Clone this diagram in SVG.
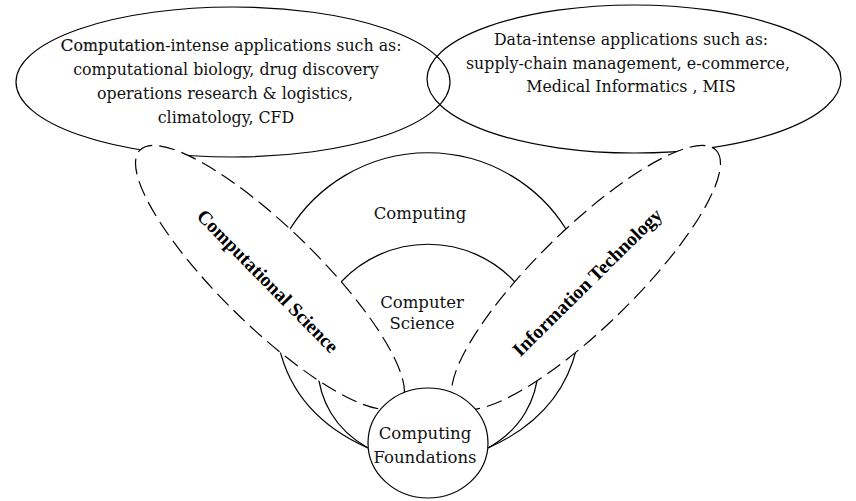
<svg xmlns="http://www.w3.org/2000/svg" width="856" height="501" viewBox="0 0 856 501">
  <style>
    .line { fill: none; stroke: #000; stroke-width: 1.2; }
    .band { fill: #fff; stroke: #000; stroke-width: 1.2; stroke-dasharray: 16 7; }
    .disc { fill: #fff; stroke: #000; stroke-width: 1.2; }
    .txt { font-family: "DejaVu Serif", "Liberation Serif", serif; font-size: 16.5px; fill: #111; text-anchor: middle; }
    .apps { font-size: 15.8px; }
    .bold { font-family: "Liberation Serif", "Times New Roman", serif; font-size: 19.5px; font-weight: bold; fill: #000; text-anchor: middle; }
  </style>
  <rect width="856" height="501" fill="#fff"/>

  <!-- nested fans growing out of the foundations disc -->
  <g id="computing">
    <path class="line" d="M368 448 C260 400 265 300 290 229 A163 163 0 0 1 566 229 C591 300 596 400 488 448"/>
    <text class="txt" x="420" y="219">Computing</text>
  </g>
  <g id="computer-science">
    <path class="line" d="M368 448 C300 410 310 330 342 281 A119 119 0 0 1 514 281 C546 330 556 410 488 448"/>
    <text class="txt" x="422" y="308">Computer</text>
    <text class="txt" x="422" y="329">Science</text>
  </g>

  <!-- application areas -->
  <g id="computation-apps">
    <ellipse class="line" cx="233" cy="82" rx="217" ry="75"/>
    <text class="txt apps" x="231" y="51"><tspan stroke="#000" stroke-width="0.15"><tspan font-size="17">C</tspan>omputation</tspan>-intense applications such as:</text>
    <text class="txt apps" x="226" y="75">computational biology, drug discovery</text>
    <text class="txt apps" x="225" y="99">operations research &amp; logistics,</text>
    <text class="txt apps" x="226" y="123">climatology, CFD</text>
  </g>
  <g id="data-apps">
    <ellipse class="line" cx="634" cy="79" rx="207" ry="74"/>
    <text class="txt apps" x="631" y="45">Data-intense applications such as:</text>
    <text class="txt apps" x="628" y="69">supply-chain management, e-commerce,</text>
    <text class="txt apps" x="631" y="92">Medical  Informatics , MIS</text>
  </g>

  <!-- tilted bands -->
  <g id="computational-science">
    <ellipse class="band" cx="270" cy="277.5" rx="182" ry="49" transform="rotate(44.4 270 277.5)"/>
    <text class="bold" transform="translate(268 281) rotate(45.4)" dy="0.35em">Computational Science</text>
  </g>
  <g id="information-technology">
    <ellipse class="band" cx="586" cy="277.5" rx="182" ry="49" transform="rotate(-44.4 586 277.5)"/>
    <text class="bold" transform="translate(587 282) rotate(-44.6)" dy="0.35em">Information Technology</text>
  </g>

  <g id="computing-foundations">
    <ellipse class="disc" cx="428" cy="443" rx="60" ry="55"/>
    <text class="txt" x="425" y="439">Computing</text>
    <text class="txt" x="425" y="463">Foundations</text>
  </g>
</svg>
